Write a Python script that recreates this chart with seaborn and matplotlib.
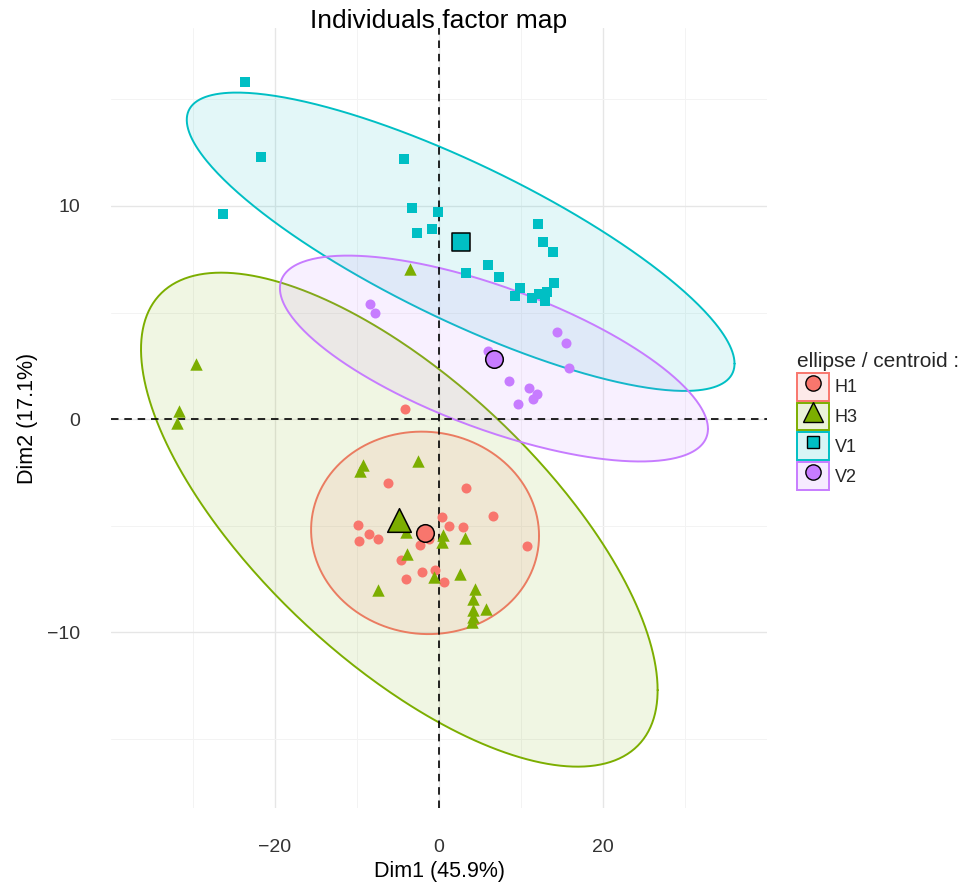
import numpy as np
import pandas as pd
import matplotlib
matplotlib.use("Agg")
import matplotlib.pyplot as plt
import seaborn as sns
from matplotlib.patches import Patch
from matplotlib.lines import Line2D
from matplotlib.legend_handler import HandlerTuple

# ---------------- data ----------------
groups = ["H1", "H3", "V1", "V2"]
colors = ["#F8766D", "#7CAE00", "#00BFC4", "#C77CFF"]
markers = ["o", "^", "s", "o"]

h1_x = [-4.1, -6.2, 3.3, 6.6, -9.84, -8.5, -7.5, -9.76, 0.33, 1.26, 2.9, -1.18, -2.3, 10.7, -4.6, -2.1, -0.5, -4.0, 0.65]
h1_y = [0.48, -3.0, -3.24, -4.53, -4.95, -5.37, -5.62, -5.7, -4.61, -5.03, -5.08, -5.62, -5.93, -5.97, -6.6, -7.16, -7.1, -7.5, -7.65]

h3_x = [-3.5, -29.6, -31.7, -32.0, -9.3, -9.63, -2.6, -4.0, 0.45, 0.33, 3.17, -3.9, -0.57, 2.56, -7.4, 4.4, 4.2, 5.7, 4.2, 4.1, 4.0]
h3_y = [7.05, 2.6, 0.37, -0.2, -2.15, -2.46, -1.95, -5.3, -5.42, -5.78, -5.6, -6.33, -7.4, -7.26, -8.02, -7.96, -8.43, -8.9, -8.96, -9.3, -9.5]

v1_x = [-23.6, -21.7, -4.3, -26.3, -3.3, -0.1, -2.7, -0.8, 12.1, 12.7, 13.9, 5.94, 3.26, 7.3, 14.0, 9.88, 9.3, 11.3, 12.2, 13.2, 12.9]
v1_y = [15.8, 12.3, 12.2, 9.6, 9.9, 9.7, 8.75, 8.9, 9.14, 8.29, 7.85, 7.24, 6.85, 6.65, 6.39, 6.14, 5.79, 5.68, 5.87, 5.95, 5.56]

v2_x = [-8.4, -7.8, 14.35, 15.45, 15.9, 5.93, 8.58, 11.0, 12.0, 11.5, 9.67]
v2_y = [5.4, 4.98, 4.08, 3.58, 2.41, 3.19, 1.79, 1.46, 1.17, 0.92, 0.7]

# group centroids
cen_x = [-1.7, -4.84, 2.64, 6.7]
cen_y = [-5.34, -4.72, 8.32, 2.84]

# confidence ellipses: x half-extent, y half-extent, correlation
ell_sx = [13.9, 31.5, 33.4, 26.1]
ell_sy = [4.75, 11.59, 7.0, 4.83]
ell_r = [-0.03, -0.69, -0.817, -0.683]

x_ticks = [-20, 0, 20]
y_ticks = [-10, 0, 10]

# ---------------- build frame ----------------
xs = [h1_x, h3_x, v1_x, v2_x]
ys = [h1_y, h3_y, v1_y, v2_y]
df = pd.concat([pd.DataFrame({"Dim1": x, "Dim2": y, "group": g})
                for x, y, g in zip(xs, ys, groups)], ignore_index=True)
cen = pd.DataFrame({"Dim1": cen_x, "Dim2": cen_y, "group": groups})

sns.set_style("white")
plt.rcParams["font.family"] = ["Liberation Sans", "DejaVu Sans"]

W, H = 968, 884
fig = plt.figure(figsize=(W / 100, H / 100), dpi=100)
ax = fig.add_axes([111 / W, 1 - 808 / H, 656 / W, 780 / H])

# grid
ax.set_xlim(-40, 40)
ax.set_ylim(-18.25, 18.35)
ax.set_xticks(x_ticks)
ax.set_yticks(y_ticks)
ax.set_xticks([-30, -10, 10, 30], minor=True)
ax.set_yticks([-15, -5, 5, 15], minor=True)
ax.grid(True, which="major", color="#E6E6E6", lw=1.0, zorder=0)
ax.grid(True, which="minor", color="#F3F3F3", lw=0.7, zorder=0)
ax.set_axisbelow(True)
for sp in ax.spines.values():
    sp.set_visible(False)
ax.tick_params(which="both", length=0)
ax.tick_params(axis="both", which="major", labelsize=14, labelcolor="#333333", pad=22)

# ellipses
t = np.linspace(0, 2 * np.pi, 400)
for i, g in enumerate(groups):
    ex = cen_x[i] + ell_sx[i] * np.cos(t)
    ey = cen_y[i] + ell_sy[i] * (ell_r[i] * np.cos(t) + np.sqrt(1 - ell_r[i] ** 2) * np.sin(t))
    ax.fill(ex, ey, color=colors[i], alpha=0.11, lw=0, zorder=1 + i * 0.1)
    ax.plot(ex, ey, color=colors[i], lw=1.4, zorder=1.05 + i * 0.1)

# reference lines
ax.axhline(0, color="black", lw=1.2, ls=(0, (4.5, 3.5)), zorder=2.5)
ax.axvline(0, color="black", lw=1.2, ls=(0, (4.5, 3.5)), zorder=2.5)

# points
pt_sizes = {"o": 52, "^": 80, "s": 52}
for i, g in enumerate(groups):
    sub = df[df["group"] == g]
    sns.scatterplot(data=sub, x="Dim1", y="Dim2", color=colors[i], marker=markers[i],
                    s=pt_sizes[markers[i]], linewidth=0, ax=ax, legend=False, zorder=3)

# centroids
cen_sizes = {"o": 160, "^": 290, "s": 150}
for i, g in enumerate(groups):
    sub = cen[cen["group"] == g]
    sns.scatterplot(data=sub, x="Dim1", y="Dim2", color=colors[i], marker=markers[i],
                    s=cen_sizes[markers[i]], edgecolor="black", linewidth=1.1, ax=ax,
                    legend=False, zorder=4)

# labels
ax.set_xlabel("Dim1 (45.9%)", fontsize=15.5, color="black")
ax.set_ylabel("Dim2 (17.1%)", fontsize=15.5, color="black")
ax.xaxis.set_label_coords(0.5, (808 - 872) / 780)
ax.xaxis.label.set_va("center")
ax.yaxis.set_label_coords((28 - 111) / 656, 0.5)
ax.yaxis.label.set_va("center")
fig.text(439 / W, 1 - 21 / H, "Individuals factor map", ha="center", va="center",
         fontsize=19, color="black")

# legend
leg_ms = {"o": 11, "^": 15, "s": 9}
handles = []
for i, g in enumerate(groups):
    box = Patch(facecolor=matplotlib.colors.to_rgba(colors[i], 0.15),
                edgecolor=colors[i], lw=1.4)
    mk = Line2D([], [], marker=markers[i], color=colors[i], markeredgecolor="black",
                markeredgewidth=1.0, markersize=leg_ms[markers[i]], linestyle="None")
    handles.append((box, mk))
leg = fig.legend(handles, groups, loc="upper left", bbox_to_anchor=(797 / W, 1 - 352 / H),
                 frameon=False, title="ellipse / centroid :", title_fontsize=15,
                 fontsize=13, alignment="left",
                 handler_map={tuple: HandlerTuple(ndivide=1, pad=0)},
                 handlelength=1.75, handleheight=2.0, labelspacing=0.1,
                 handletextpad=0.35, borderaxespad=0, borderpad=0)

fig.savefig("out.png", dpi=100, facecolor="white")
